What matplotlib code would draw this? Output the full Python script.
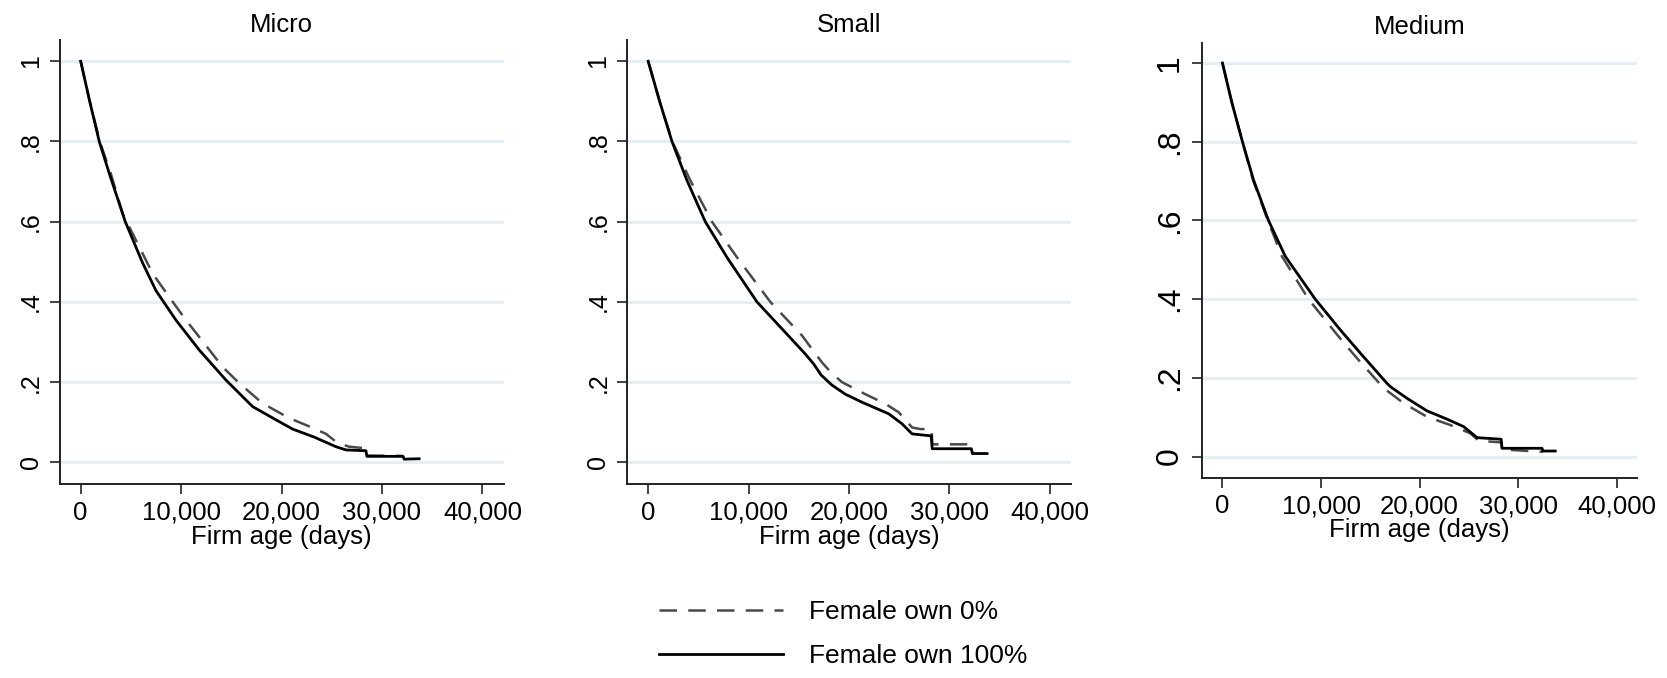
import matplotlib
matplotlib.use("Agg")
import matplotlib.pyplot as plt
from matplotlib.lines import Line2D

plt.rcParams['font.family'] = ['Liberation Sans', 'DejaVu Sans']

panel_titles = ["Micro", "Small", "Medium"]
series_labels = ["Female own 0%", "Female own 100%"]
x_ticks = [0, 10000, 20000, 30000, 40000]
x_tick_labels = ["0", "10,000", "20,000", "30,000", "40,000"]
y_ticks = [0, 0.2, 0.4, 0.6, 0.8, 1.0]
y_tick_labels = ["0", ".2", ".4", ".6", ".8", "1"]
x_title = "Firm age (days)"

# Micro
micro_f0_x = [0, 900, 1900, 3000, 4180, 5840, 7160, 8820, 10490, 12310, 14130, 15800,
              18120, 20780, 22440, 24430, 25590, 26750, 28400, 28500, 32100]
micro_f0_y = [1.0, 0.90, 0.80, 0.72, 0.62, 0.537, 0.471, 0.412, 0.3545, 0.2965, 0.238, 0.197,
              0.147, 0.11, 0.093, 0.071, 0.048, 0.039, 0.035, 0.017, 0.016]
micro_f100_x = [0, 900, 1850, 2850, 4440, 6170, 7500, 9490, 11810, 14470, 17120, 19450,
                21100, 23250, 25420, 26420, 28400, 28500, 32100, 32200, 33700]
micro_f100_y = [1.0, 0.90, 0.80, 0.72, 0.60, 0.497, 0.428, 0.3545, 0.280, 0.205, 0.139, 0.106,
                0.083, 0.063, 0.039, 0.031, 0.029, 0.015, 0.015, 0.008, 0.009]

# Small
small_f0_x = [0, 1140, 2400, 4190, 6350, 8850, 12170, 15330, 17320, 18300, 19310, 21630,
              23630, 24950, 26290, 27120, 28250, 28300, 32200, 32300]
small_f0_y = [1.0, 0.90, 0.80, 0.703, 0.60, 0.511, 0.40, 0.316, 0.249, 0.222, 0.20, 0.170,
              0.146, 0.125, 0.087, 0.083, 0.083, 0.045, 0.045, 0.025]
small_f100_x = [0, 1140, 2370, 3860, 5690, 7850, 10840, 13660, 15660, 16500, 17220, 18290,
                19640, 21300, 23970, 25300, 26290, 28200, 28300, 32200, 32300, 33770]
small_f100_y = [1.0, 0.90, 0.80, 0.703, 0.60, 0.511, 0.40, 0.324, 0.27, 0.245, 0.218, 0.193,
                0.170, 0.150, 0.121, 0.096, 0.071, 0.066, 0.034, 0.034, 0.022, 0.022]

# Medium
medium_f0_x = [0, 950, 2030, 3100, 4600, 6030, 8730, 11780, 13640, 16350, 18380, 20750,
               23120, 25150, 26000, 28300, 28400, 32500]
medium_f0_y = [1.0, 0.90, 0.80, 0.703, 0.60, 0.509, 0.40, 0.305, 0.25, 0.174, 0.1355, 0.101,
               0.080, 0.059, 0.040, 0.036, 0.018, 0.012]
medium_f100_x = [0, 950, 2030, 3150, 4670, 6370, 9410, 11950, 13980, 16690, 17090, 18720,
                 20750, 22780, 24470, 25830, 28270, 28350, 32420, 32500, 33760]
medium_f100_y = [1.0, 0.90, 0.80, 0.703, 0.60, 0.509, 0.40, 0.322, 0.263, 0.186, 0.1765, 0.148,
                 0.116, 0.095, 0.076, 0.048, 0.044, 0.021, 0.021, 0.014, 0.014]

f0_x = [micro_f0_x, small_f0_x, medium_f0_x]
f0_y = [micro_f0_y, small_f0_y, medium_f0_y]
f100_x = [micro_f100_x, small_f100_x, medium_f100_x]
f100_y = [micro_f100_y, small_f100_y, medium_f100_y]

W, H = 1667, 678
fig = plt.figure(figsize=(W / 100, H / 100), dpi=100)

positions = [
    [0.03575, 0.2861, 0.2663, 0.6543],
    [0.3762, 0.2861, 0.2661, 0.6543],
    [0.7209, 0.2953, 0.2614, 0.6419],
]
ytick_sizes = [18, 18, 23]

grid_color = "#e6eef1"
dash_color = "#4a4a4a"
dashes = (7, 4.5)

for i in range(3):
    ax = fig.add_axes(positions[i])
    for yv in y_ticks:
        ax.axhline(yv, color=grid_color, lw=2.2, zorder=0)
    ax.plot(f0_x[i], f0_y[i], color=dash_color, lw=1.8, dashes=dashes, zorder=2)
    ax.plot(f100_x[i], f100_y[i], color="black", lw=2.0, zorder=3,
            solid_joinstyle="round")
    ax.set_xlim(-2100, 42100)
    ax.set_ylim(-0.054, 1.052)
    ax.set_xticks(x_ticks)
    ax.set_xticklabels(x_tick_labels, fontsize=18.5)
    ax.set_yticks(y_ticks)
    ax.set_yticklabels(y_tick_labels, fontsize=ytick_sizes[i], rotation=90, va="center")
    for s in ["top", "right"]:
        ax.spines[s].set_visible(False)
    for s in ["left", "bottom"]:
        ax.spines[s].set_linewidth(1.4)
        ax.spines[s].set_color("#222222")
    ax.tick_params(axis="both", length=7, width=1.2, color="#222222")
    ax.tick_params(axis="x", pad=5)
    ax.tick_params(axis="y", pad=5)
    ax.set_xlabel(x_title, fontsize=18.5, labelpad=0)
    ax.set_title(panel_titles[i], fontsize=18.5, pad=6)

handles = [
    Line2D([], [], color=dash_color, lw=1.8, dashes=dashes),
    Line2D([], [], color="black", lw=2.0),
]
fig.legend(handles, series_labels, loc="center", bbox_to_anchor=(0.5057, 0.065),
           frameon=False, fontsize=19, handlelength=4.7, handletextpad=1.0,
           labelspacing=0.75)

fig.savefig("out.png", dpi=100)
